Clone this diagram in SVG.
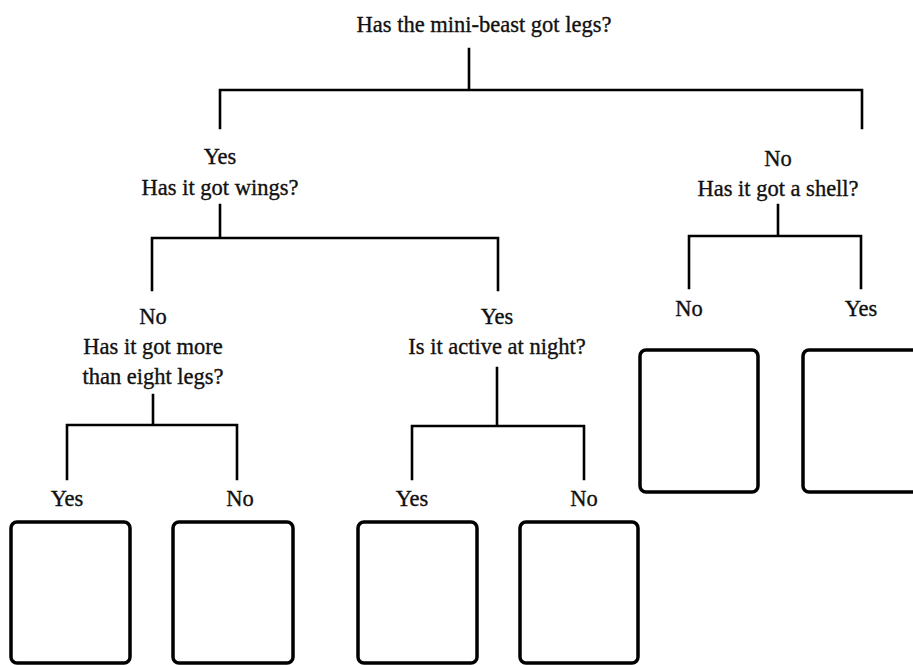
<svg xmlns="http://www.w3.org/2000/svg" width="913" height="665" viewBox="0 0 913 665">
<style>
text{font-family:"Liberation Serif","Times New Roman",serif;font-size:22.5px;fill:#111;text-anchor:middle;stroke:#111;stroke-width:0.35}
.ln{fill:none;stroke:#000;stroke-width:2.6;stroke-linecap:square;stroke-linejoin:miter}
.box{fill:#fff;stroke:#000;stroke-width:3.5}
</style>
<rect width="913" height="665" fill="#fff"/>
<g id="connectors">
<path class="ln" d="M469,49V90M220,128V90H862V128"/>
<path class="ln" d="M220,205V238M152,290V238H498V290"/>
<path class="ln" d="M778,205V236M689,288V236H861V288"/>
<path class="ln" d="M153,395V425M67,479V425H237V479"/>
<path class="ln" d="M497,368V426M412,479V426H584V479"/>
</g>
<g id="root"><text x="484" y="32">Has the mini-beast got legs?</text></g>
<g id="wings"><text x="220" y="164">Yes</text><text x="220" y="195">Has it got wings?</text></g>
<g id="shell"><text x="778" y="166">No</text><text x="778" y="196">Has it got a shell?</text></g>
<g id="legs"><text x="153" y="324">No</text><text x="153" y="354">Has it got more</text><text x="153" y="384">than eight legs?</text></g>
<g id="night"><text x="497" y="324">Yes</text><text x="497" y="354">Is it active at night?</text></g>
<g id="leaf1"><text x="67" y="506">Yes</text><rect class="box" x="11" y="522" width="119" height="141" rx="6"/></g>
<g id="leaf2"><text x="240" y="506">No</text><rect class="box" x="173" y="522" width="120" height="141" rx="6"/></g>
<g id="leaf3"><text x="412" y="506">Yes</text><rect class="box" x="358" y="522" width="119" height="141" rx="6"/></g>
<g id="leaf4"><text x="584" y="506">No</text><rect class="box" x="520" y="522" width="118" height="141" rx="6"/></g>
<g id="leaf5"><text x="689" y="316">No</text><rect class="box" x="640" y="350" width="118" height="142" rx="6"/></g>
<g id="leaf6"><text x="861" y="316">Yes</text><rect class="box" x="803" y="350" width="120" height="142" rx="6"/></g>
</svg>
